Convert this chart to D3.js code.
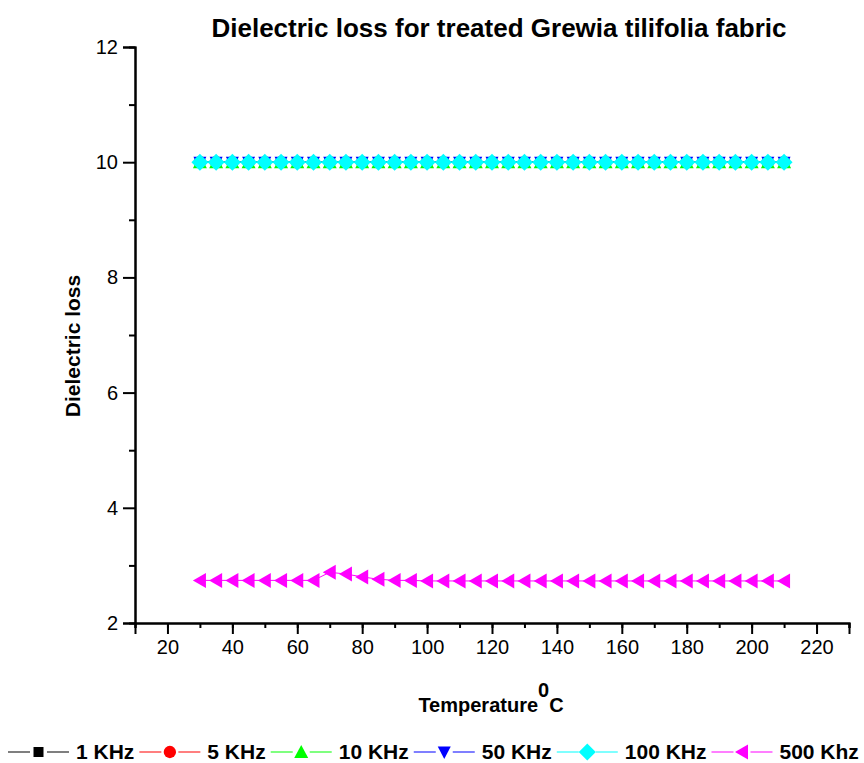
<!DOCTYPE html>
<html>
<head>
<meta charset="utf-8">
<script src="https://cdn.jsdelivr.net/npm/d3@7"></script>
<style>
  body { margin: 0; background: #fff; }
  svg { font-family: "Liberation Sans", Arial, sans-serif; }
</style>
</head>
<body>
<svg id="chart" width="864" height="763"></svg>
<script>
// temperature (deg C)
var temps = [30, 35, 40, 45, 50, 55, 60, 65, 70, 75, 80, 85, 90, 95, 100, 105, 110, 115, 120,
             125, 130, 135, 140, 145, 150, 155, 160, 165, 170, 175, 180, 185, 190, 195, 200, 205, 210];

var loss1k   = [10,10,10,10,10,10,10,10,10,10,10,10,10,10,10,10,10,10,10,10,10,10,10,10,10,10,10,10,10,10,10,10,10,10,10,10,10];
var loss5k   = [10,10,10,10,10,10,10,10,10,10,10,10,10,10,10,10,10,10,10,10,10,10,10,10,10,10,10,10,10,10,10,10,10,10,10,10,10];
var loss10k  = [10,10,10,10,10,10,10,10,10,10,10,10,10,10,10,10,10,10,10,10,10,10,10,10,10,10,10,10,10,10,10,10,10,10,10,10,10];
var loss50k  = [10,10,10,10,10,10,10,10,10,10,10,10,10,10,10,10,10,10,10,10,10,10,10,10,10,10,10,10,10,10,10,10,10,10,10,10,10];
var loss100k = [10,10,10,10,10,10,10,10,10,10,10,10,10,10,10,10,10,10,10,10,10,10,10,10,10,10,10,10,10,10,10,10,10,10,10,10,10];
var loss500k = [2.74,2.74,2.74,2.74,2.74,2.74,2.74,2.74,2.88,2.85,2.80,2.76,2.74,2.74,2.73,2.73,2.73,2.73,2.73,
                2.73,2.73,2.73,2.73,2.73,2.73,2.73,2.73,2.73,2.73,2.73,2.73,2.73,2.73,2.73,2.73,2.73,2.73];

var xTicks = [20, 40, 60, 80, 100, 120, 140, 160, 180, 200, 220];
var yTicks = [2, 4, 6, 8, 10, 12];

var seriesNames  = ["1 KHz", "5 KHz", "10 KHz", "50 KHz", "100 KHz", "500 Khz"];
var seriesValues = [loss1k, loss5k, loss10k, loss50k, loss100k, loss500k];
var seriesColors = ["#000000", "#ff0000", "#00ff00", "#0000ff", "#00ffff", "#ff00ff"];
var seriesShapes = ["square", "circle", "up", "down", "diamond", "left"];

var svg = d3.select("#chart");
var plotLeft = 135, plotRight = 849, plotTop = 47, plotBottom = 623;

var x = d3.scaleLinear().domain([10, 230]).range([plotLeft, plotRight]);
var y = d3.scaleLinear().domain([2, 12]).range([plotBottom, plotTop]);

// marker shapes, centred at 0,0
function shapePath(kind) {
  if (kind === "square") return "M-5,-5H5V5H-5Z";
  if (kind === "circle") return d3.symbol(d3.symbolCircle, 120)();
  if (kind === "up") return "M0,-7L7,6H-7Z";
  if (kind === "down") return "M0,7L6.5,-5.5H-6.5Z";
  if (kind === "diamond") return "M0,-8.5L8.5,0L0,8.5L-8.5,0Z";
  if (kind === "left") return "M-7,0L6,-7.5V7.5Z";
}

// axes
var xAxisMinor = d3.axisBottom(x).tickValues(d3.range(10, 231, 10)).tickSize(5).tickFormat("");
var xAxis = d3.axisBottom(x).tickValues(xTicks).tickSize(11).tickPadding(6);
var yAxisMinor = d3.axisLeft(y).tickValues([3, 5, 7, 9, 11]).tickSize(6).tickFormat("");
var yAxis = d3.axisLeft(y).tickValues(yTicks).tickSize(12).tickPadding(5);

function styleAxis(g) {
  g.select(".domain").attr("stroke", "#000").attr("stroke-width", 2);
  g.selectAll(".tick line").attr("stroke", "#000").attr("stroke-width", 2);
  g.selectAll(".tick text").attr("fill", "#000").style("font-size", "20px")
    .style("font-family", "'Liberation Sans', Arial, sans-serif");
}

svg.append("g").attr("transform", "translate(0," + plotBottom + ")").call(xAxisMinor).call(styleAxis);
svg.append("g").attr("transform", "translate(0," + plotBottom + ")").call(xAxis).call(styleAxis);
svg.append("g").attr("transform", "translate(" + plotLeft + ",0)").call(yAxisMinor).call(styleAxis);
svg.append("g").attr("transform", "translate(" + plotLeft + ",0)").call(yAxis).call(styleAxis);

// series
var line = d3.line().x(function(d) { return x(d[0]); }).y(function(d) { return y(d[1]); });

seriesValues.forEach(function(vals, i) {
  var pts = temps.map(function(t, j) { return [t, vals[j]]; });
  var g = svg.append("g");
  g.append("path").datum(pts).attr("d", line)
    .attr("fill", "none").attr("stroke", seriesColors[i]).attr("stroke-width", 1);
  g.selectAll("path.mk").data(pts).enter().append("path").attr("class", "mk")
    .attr("d", shapePath(seriesShapes[i]))
    .attr("transform", function(d) { return "translate(" + x(d[0]) + "," + y(d[1]) + ")"; })
    .attr("fill", seriesColors[i]);
});

// title and labels
svg.append("text").attr("x", 499).attr("y", 37).attr("text-anchor", "middle")
  .style("font-size", "26px").style("font-weight", "bold")
  .text("Dielectric loss for treated Grewia tilifolia fabric");

svg.append("text").attr("transform", "translate(80,346) rotate(-90)").attr("text-anchor", "middle")
  .style("font-size", "21px").style("font-weight", "bold").text("Dielectric loss");

var xl = svg.append("text").attr("x", 491).attr("y", 712).attr("text-anchor", "middle")
  .style("font-size", "20px").style("font-weight", "bold");
xl.append("tspan").text("Temperature");
xl.append("tspan").attr("dy", -15).text("0");
xl.append("tspan").attr("dy", 15).text("C");

// legend along the bottom
var lx = 8, ly = 752;
seriesNames.forEach(function(name, i) {
  var g = svg.append("g");
  g.append("line").attr("x1", lx).attr("x2", lx + 61).attr("y1", ly).attr("y2", ly)
    .attr("stroke", seriesColors[i]).attr("stroke-width", 1.2);
  g.append("rect").attr("x", lx + 22).attr("y", ly - 8).attr("width", 17).attr("height", 16).attr("fill", "#fff");
  g.append("path").attr("d", shapePath(seriesShapes[i]))
    .attr("transform", "translate(" + (lx + 30.5) + "," + ly + ")").attr("fill", seriesColors[i]);
  var t = g.append("text").attr("x", lx + 68).attr("y", ly + 7)
    .style("font-size", "21px").style("font-weight", "bold").text(name);
  lx += 68 + t.node().getComputedTextLength() + 5;
});
</script>
</body>
</html>
